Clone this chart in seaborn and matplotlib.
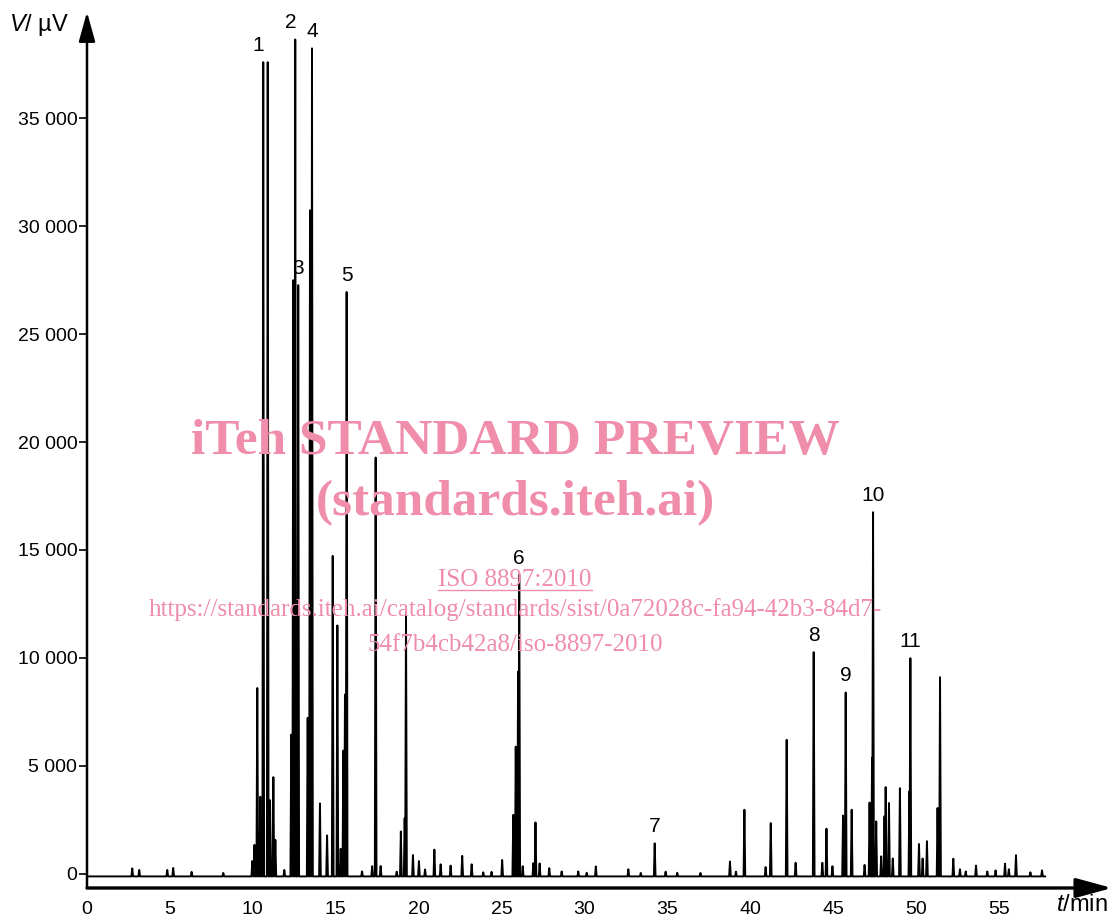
import numpy as np
import pandas as pd
import matplotlib
matplotlib.use("Agg")
import matplotlib.pyplot as plt
import seaborn as sns
from matplotlib.ticker import FuncFormatter
from matplotlib.lines import Line2D

# ---------------- data ----------------
peak_times = [
    2.73, 3.15, 4.84, 5.20, 6.31, 8.22,
    9.97, 10.10, 10.27, 10.45, 10.63, 10.90, 11.04, 11.24, 11.36, 11.90,
    12.32, 12.44, 12.56, 12.74, 13.31, 13.45, 13.57, 14.05, 14.48, 14.82,
    15.10, 15.30, 15.46, 15.56, 15.66, 16.59, 17.20, 17.41, 17.71, 18.68,
    18.93, 19.16, 19.24, 19.66, 20.02, 20.39, 20.95, 21.33, 21.93, 22.63,
    23.20, 23.90, 24.40, 25.04, 25.71, 25.86, 26.00, 26.07, 26.28, 26.92,
    27.05, 27.30, 27.88, 28.63, 29.63, 30.14, 30.69, 32.65, 33.40, 34.24,
    34.90, 35.60, 37.00, 38.78, 39.14, 39.65, 40.93, 41.24, 42.20, 42.74,
    43.83, 44.35, 44.60, 44.96, 45.60, 45.76, 46.12, 46.90, 47.20, 47.35,
    47.41, 47.60, 47.90, 48.10, 48.17, 48.37, 48.60, 49.03, 49.60, 49.66,
    50.18, 50.40, 50.66, 51.30, 51.45, 52.25, 52.65, 53.00, 53.62, 54.30,
    54.80, 55.37, 55.60, 56.03, 56.90, 57.60,
]
peak_heights = [
    240, 170, 170, 260, 80, 30,
    580, 1330, 8600, 3560, 37600, 37600, 3400, 4470, 1560, 170,
    6440, 27500, 38650, 27270, 7220, 30740, 38240, 3250, 1770, 14720,
    11500, 1150, 5700, 8300, 26950, 100, 340, 19280, 350, 90,
    1950, 2560, 12080, 860, 580, 190, 1110, 430, 370, 820,
    430, 60, 80, 630, 2720, 5880, 9360, 13840, 340, 480,
    2370, 470, 250, 100, 100, 40, 330, 200, 30, 1400,
    90, 40, 30, 560, 90, 2960, 300, 2340, 6200, 500,
    10260, 500, 2080, 340, 2690, 8390, 2960, 400, 3290, 5370,
    16745, 2420, 800, 2650, 4010, 3270, 700, 3960, 3810, 9980,
    1370, 700, 1500, 3040, 9100, 690, 200, 100, 370, 100,
    150, 460, 200, 850, 60, 150,
]
baseline_level = -130
run_start, run_end = 0.0, 57.8

label_names = ["1", "2", "3", "4", "5", "6", "7", "8", "9", "10", "11"]
label_times = [10.63, 12.56, 12.74, 13.57, 15.66, 26.07, 34.24, 43.83, 45.76, 47.41, 49.66]

x_ticks = [0, 5, 10, 15, 20, 25, 30, 35, 40, 45, 50, 55]
y_ticks = [0, 5000, 10000, 15000, 20000, 25000, 30000, 35000]

# ---------------- build the trace as a polyline of read vertices -------------
half_w = 0.05
tv, vv = [run_start], [baseline_level]
for t, h in zip(peak_times, peak_heights):
    tv += [t - half_w, t, t + half_w]
    vv += [baseline_level, h, baseline_level]
tv.append(run_end)
vv.append(baseline_level)
trace = pd.DataFrame({"t": tv, "v": vv})

# ---------------- figure ----------------
sns.set_style("white")
plt.rcParams["font.family"] = ["Liberation Sans", "DejaVu Sans"]
plt.rcParams["text.color"] = "black"
plt.rcParams["mathtext.fontset"] = "custom"
plt.rcParams["mathtext.it"] = "Liberation Sans:italic"
plt.rcParams["mathtext.rm"] = "Liberation Sans"

W, H = 1115, 917
fig = plt.figure(figsize=(W / 100, H / 100), dpi=100)
x0_px, x_axis_px, top_px, right_px = 87, 888, 12, 1112
ax = fig.add_axes([x0_px / W, (H - x_axis_px) / H, (right_px - x0_px) / W, (x_axis_px - top_px) / H])

px_per_min = 16.58
px_per_kuv = 21.58
zero_px = 873.6
ax.set_xlim(0, (right_px - x0_px) / px_per_min)
ax.set_ylim(-(x_axis_px - zero_px) / px_per_kuv * 1000, (zero_px - top_px) / px_per_kuv * 1000)

sns.lineplot(data=trace, x="t", y="v", sort=False, estimator=None,
             color="black", lw=1.4, ax=ax)

for sp in ax.spines.values():
    sp.set_visible(False)

# axes with arrow heads
ax.annotate("", xy=(1, 0), xytext=(0, 0), xycoords="axes fraction",
            arrowprops=dict(arrowstyle="-|>,head_length=1.1,head_width=0.3",
                            lw=2.4, color="black", mutation_scale=20,
                            shrinkA=0, shrinkB=0))
ax.annotate("", xy=(0, 1), xytext=(0, 0), xycoords="axes fraction",
            arrowprops=dict(arrowstyle="-|>,head_length=0.9,head_width=0.25",
                            lw=1.8, color="black", mutation_scale=20,
                            shrinkA=0, shrinkB=0))

ax.set_xticks(x_ticks)
ax.set_yticks(y_ticks)
ax.yaxis.set_major_formatter(FuncFormatter(lambda v, p: f"{int(v):,}".replace(",", " ")))
ax.tick_params(axis="y", left=True, length=6, width=1.2, pad=1, labelsize=14, colors="black")
ax.tick_params(axis="x", bottom=True, length=0, pad=9, labelsize=14, colors="black")
ax.set_xlabel("")
ax.set_ylabel("")

# peak labels
label_dx = {"1": -4, "2": -3}
for name, t in zip(label_names, label_times):
    h = peak_heights[peak_times.index(t)]
    ax.annotate(name, xy=(t, h), xytext=(label_dx.get(name, 0), 12),
                textcoords="offset points", ha="center", va="center",
                fontsize=15, color="black")

# axis titles
fig.text(9 / W, 1 - 25 / H, "$V$/ µV", ha="left", va="center", fontsize=17, color="black")
fig.text(1056 / W, 1 - 905 / H, "$t$/min", ha="left", va="center", fontsize=17, color="black")

# watermark
pink = "#ef8dab"
serif = ["Liberation Serif", "DejaVu Serif"]
fig.text(515 / W, 1 - 442 / H, "iTeh STANDARD PREVIEW", family=serif, weight="bold",
         fontsize=37, color=pink, ha="center", va="center")
fig.text(515 / W, 1 - 503 / H, "(standards.iteh.ai)", family=serif, weight="bold",
         fontsize=37, color=pink, ha="center", va="center")
iso = fig.text(515 / W, 1 - 580 / H, "ISO 8897:2010", family=serif,
               fontsize=18, color=pink, ha="center", va="center")
fig.text(515 / W, 1 - 610 / H,
         "https://standards.iteh.ai/catalog/standards/sist/0a72028c-fa94-42b3-84d7-",
         family=serif, fontsize=18, color=pink, ha="center", va="center")
fig.text(515 / W, 1 - 645 / H, "54f7b4cb42a8/iso-8897-2010", family=serif,
         fontsize=18, color=pink, ha="center", va="center")

fig.canvas.draw()
bb = iso.get_window_extent()
yl = (bb.y0 + 1) / H
fig.add_artist(Line2D([bb.x0 / W, bb.x1 / W], [yl, yl], color=pink, lw=1.0))

fig.savefig("out.png", dpi=100)
